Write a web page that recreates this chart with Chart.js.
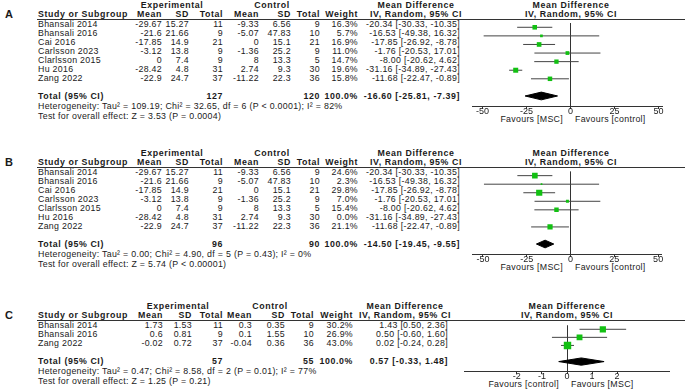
<!DOCTYPE html>
<html><head><meta charset="utf-8">
<script src="https://cdn.jsdelivr.net/npm/chart.js@4/dist/chart.umd.min.js"></script>
<style>
html,body{margin:0;padding:0;background:#fff;}
#root{position:relative;width:685px;height:389px;overflow:hidden;font-family:"Liberation Sans",Arial,sans-serif;color:#1a1a1a;}
.t{position:absolute;white-space:nowrap;font-size:8.8px;line-height:10px;height:10px;letter-spacing:0.3px;}
.b{font-weight:bold;letter-spacing:0.6px;}
.r{text-align:right;width:240px;}
.c{text-align:center;width:240px;}
canvas{position:absolute;}
.hl{position:absolute;height:0;border-top:1px solid #333;}
</style></head><body><div id="root"></div>
<script>
// ---------- data: outcome A / B (same studies, different weights) ----------
const studiesAB = ['Bhansali 2014','Bhansali 2016','Cai 2016','Carlsson 2023','Clarlsson 2015','Hu 2016','Zang 2022'];
const expMeanAB = [-29.67,-21.6,-17.85,-3.12,0,-28.42,-22.9];
const expSDAB   = [15.27,21.66,14.9,13.8,7.4,4.8,24.7];
const expNAB    = [11,9,21,9,9,31,37];
const ctlMeanAB = [-9.33,-5.07,0,-1.36,8,2.74,-11.22];
const ctlSDAB   = [6.56,47.83,15.1,25.2,13.3,9.3,22.3];
const ctlNAB    = [9,10,21,9,5,30,36];
const mdAB      = [-20.34,-16.53,-17.85,-1.76,-8.00,-31.16,-11.68];
const lowAB     = [-30.33,-49.38,-26.92,-20.53,-20.62,-34.89,-22.47];
const highAB    = [-10.35,16.32,-8.78,17.01,4.62,-27.43,-0.89];
const weightA   = [16.3,5.7,16.9,11.0,14.7,19.6,15.8];
const weightB   = [24.6,2.3,29.8,7.0,15.4,0.0,21.1];
const totalA    = [-16.60,-25.81,-7.39];
const totalB    = [-14.50,-19.45,-9.55];
const totalNA   = [127,120];
const totalNB   = [96,90];
const hetA  = 'Heterogeneity: Tau² = 109.19; Chi² = 32.65, df = 6 (P < 0.0001); I² = 82%';
const testA = 'Test for overall effect: Z = 3.53 (P = 0.0004)';
const hetB  = 'Heterogeneity: Tau² = 0.00; Chi² = 4.90, df = 5 (P = 0.43); I² = 0%';
const testB = 'Test for overall effect: Z = 5.74 (P < 0.00001)';
// ---------- data: outcome C ----------
const studiesC = ['Bhansali 2014','Bhansali 2016','Zang 2022'];
const expMeanC = [1.73,0.6,-0.02];
const expSDC   = [1.53,0.81,0.72];
const expNC    = [11,9,37];
const ctlMeanC = [0.3,0.1,-0.04];
const ctlSDC   = [0.35,1.55,0.36];
const ctlNC    = [9,10,36];
const mdC      = [1.43,0.50,0.02];
const lowC     = [0.50,-0.60,-0.24];
const highC    = [2.36,1.60,0.28];
const weightC  = [30.2,26.9,43.0];
const totalC   = [0.57,-0.33,1.48];
const totalNC  = [57,55];
const hetC  = 'Heterogeneity: Tau² = 0.47; Chi² = 8.58, df = 2 (P = 0.01); I² = 77%';
const testC = 'Test for overall effect: Z = 1.25 (P = 0.21)';
// ---------- axis ticks & labels ----------
const ticksAB = [-50,-25,0,25,50];
const ticksC  = [-2,-1,0,1,2];
const favAB = ['Favours [MSC]','Favours [control]'];
const favC  = ['Favours [control]','Favours [MSC]'];

const root = document.getElementById('root');
function txt(s, x, y, align, bold, size){
  const d = document.createElement('div');
  d.className = 't' + (bold ? ' b' : '') + (align==='r' ? ' r' : align==='c' ? ' c' : '');
  d.textContent = s;
  let left = x;
  if (align==='r') left = x - 240;
  if (align==='c') left = x - 120;
  d.style.left = left + 'px';
  if (size) d.style.fontSize = size + 'px';
  d.style.top = (y - 5) + 'px';
  root.appendChild(d);
}
const f2 = v => v.toFixed(2);
const ci = (m,l,h) => f2(m) + ' [' + f2(l) + ', ' + f2(h) + ']';

function panel(p){
  const L = p.L, pitch = 9;
  const rowY = i => L + 4.5 + pitch*i;
  const c = p.cols;
  txt(p.letter, 5, L-5, 'l', true, 11);
  const h1 = L-14;
  txt('Experimental', c.expC, h1, 'c', true);
  txt('Control', c.ctlC, h1, 'c', true);
  txt('Mean Difference', c.ciC, h1, 'c', true);
  txt('Mean Difference', p.zeroX, h1, 'c', true);
  const h2 = L-5.5;
  txt('Study or Subgroup', 38, h2, 'l', true);
  txt('Mean', c.expMean, h2, 'r', true);
  txt('SD', c.expSD, h2, 'r', true);
  txt('Total', c.expN, h2, 'r', true);
  txt('Mean', c.ctlMean, h2, 'r', true);
  txt('SD', c.ctlSD, h2, 'r', true);
  txt('Total', c.ctlN, h2, 'r', true);
  txt('Weight', c.weight, h2, 'r', true);
  txt('IV, Random, 95% CI', c.ciC, h2, 'c', true);
  txt('IV, Random, 95% CI', p.zeroX, h2, 'c', true);
  const hl = document.createElement('div');
  hl.className = 'hl'; hl.style.left = '37px'; hl.style.width = '648px'; hl.style.top = L + 'px';
  root.appendChild(hl);
  p.studies.forEach((s,i) => {
    const y = rowY(i);
    txt(s, 38, y, 'l');
    txt(String(p.expMean[i]), c.expMean, y, 'r');
    txt(String(p.expSD[i]), c.expSD, y, 'r');
    txt(String(p.expN[i]), c.expN, y, 'r');
    txt(String(p.ctlMean[i]), c.ctlMean, y, 'r');
    txt(String(p.ctlSD[i]), c.ctlSD, y, 'r');
    txt(String(p.ctlN[i]), c.ctlN, y, 'r');
    txt(p.weight[i].toFixed(1) + '%', c.weight, y, 'r');
    txt(ci(p.md[i], p.low[i], p.high[i]), c.ci, y, 'r');
  });
  const tIdx = p.studies.length + 1;
  const ty = rowY(tIdx);
  txt('Total (95% CI)', 38, ty, 'l', true);
  txt(String(p.totalN[0]), c.expN, ty, 'r', true);
  txt(String(p.totalN[1]), c.ctlN, ty, 'r', true);
  txt('100.0%', c.weight, ty, 'r', true);
  txt(ci(p.total[0], p.total[1], p.total[2]), c.ci, ty, 'r', true);
  txt(p.het, 38, ty + 10.5, 'l');
  txt(p.test, 38, ty + 20, 'l');
  const axisY = ty + 10.5;
  txt(p.fav[0], p.zeroX - 8, axisY + 13, 'r');
  txt(p.fav[1], p.zeroX + 4, axisY + 13, 'l');

  // ---- chart ----
  const axH = 14;
  const cv = document.createElement('canvas');
  cv.width = p.axW; cv.height = (axisY - L) + axH;
  cv.style.left = p.axL + 'px'; cv.style.top = L + 'px';
  root.appendChild(cv);
  const datasets = [];
  p.md.forEach((m,i) => {
    if (p.weight[i] <= 0) return;
    datasets.push({type:'scatter', showLine:true, data:[{x:p.low[i], y:i},{x:p.high[i], y:i}],
      borderColor:'#444', borderWidth:1, pointRadius:0, order:2});
  });
  const sq = [];
  p.md.forEach((m,i) => { if (p.weight[i] > 0) sq.push({x:m, y:i, w:p.weight[i]}); });
  datasets.push({type:'scatter', data:sq, pointStyle:'rect', backgroundColor:'#12c012', borderWidth:0,
    pointRadius: sq.map(d => Math.sqrt(d.w) * p.sqK), order:0});
  const dh = 0.45;
  datasets.push({type:'scatter', showLine:true, fill:'shape', backgroundColor:'#000', borderColor:'#000', borderWidth:1,
    pointRadius:0, order:1,
    data:[{x:p.total[1], y:tIdx},{x:p.total[0], y:tIdx-dh},{x:p.total[2], y:tIdx},{x:p.total[0], y:tIdx+dh},{x:p.total[1], y:tIdx}]});
  new Chart(cv, {
    data:{datasets},
    options:{
      responsive:false, animation:false, events:[],
      layout:{padding:0},
      plugins:{legend:{display:false}, tooltip:{enabled:false}},
      scales:{
        x:{type:'linear', position:'bottom', min:p.xMin, max:p.xMax,
          afterBuildTicks: s => { s.ticks = p.ticks.map(v => ({value:v})); },
          afterFit: s => { s.height = axH; },
          border:{display:true, color:'#333', width:1},
          grid:{drawOnChartArea:true, drawTicks:true, tickLength:3, tickColor:'#333', lineWidth:1,
            color: ctx => (ctx.tick && ctx.tick.value === 0) ? '#333' : 'rgba(0,0,0,0)'},
          ticks:{padding:-3, autoSkip:false, maxRotation:0, color:'#222', font:{family:'Liberation Sans', size:9}}},
        y:{type:'linear', display:false, reverse:true, min:-0.5, max:(axisY - L - 4.5)/pitch}
      }
    }
  });
}

const colsAB = {expC:172, ctlC:272, ciC:416, expMean:162, expSD:189, expN:223, ctlMean:259, ctlSD:291, ctlN:320, weight:358, ci:460};
const colsC  = {expC:178, ctlC:270, ciC:405, expMean:163, expSD:192, expN:223, ctlMean:252, ctlSD:285, ctlN:314, weight:353, ci:448};

panel({letter:'A', L:19, cols:colsAB, studies:studiesAB, expMean:expMeanAB, expSD:expSDAB, expN:expNAB,
  ctlMean:ctlMeanAB, ctlSD:ctlSDAB, ctlN:ctlNAB, md:mdAB, low:lowAB, high:highAB, weight:weightA,
  total:totalA, totalN:totalNA, het:hetA, test:testA, fav:favAB, ticks:ticksAB,
  zeroX:571, axL:468, axW:198, xMin:-56, xMax:52, sqK:0.8});
panel({letter:'B', L:167, cols:colsAB, studies:studiesAB, expMean:expMeanAB, expSD:expSDAB, expN:expNAB,
  ctlMean:ctlMeanAB, ctlSD:ctlSDAB, ctlN:ctlNAB, md:mdAB, low:lowAB, high:highAB, weight:weightB,
  total:totalB, totalN:totalNB, het:hetB, test:testB, fav:favAB, ticks:ticksAB,
  zeroX:571, axL:468, axW:198, xMin:-56, xMax:52, sqK:0.8});
panel({letter:'C', L:320, cols:colsC, studies:studiesC, expMean:expMeanC, expSD:expSDC, expN:expNC,
  ctlMean:ctlMeanC, ctlSD:ctlSDC, ctlN:ctlNC, md:mdC, low:lowC, high:highC, weight:weightC,
  total:totalC, totalN:totalNC, het:hetC, test:testC, fav:favC, ticks:ticksC,
  zeroX:567, axL:459, axW:216, xMin:-4.1, xMax:4.1, sqK:0.8});
</script></body></html>
